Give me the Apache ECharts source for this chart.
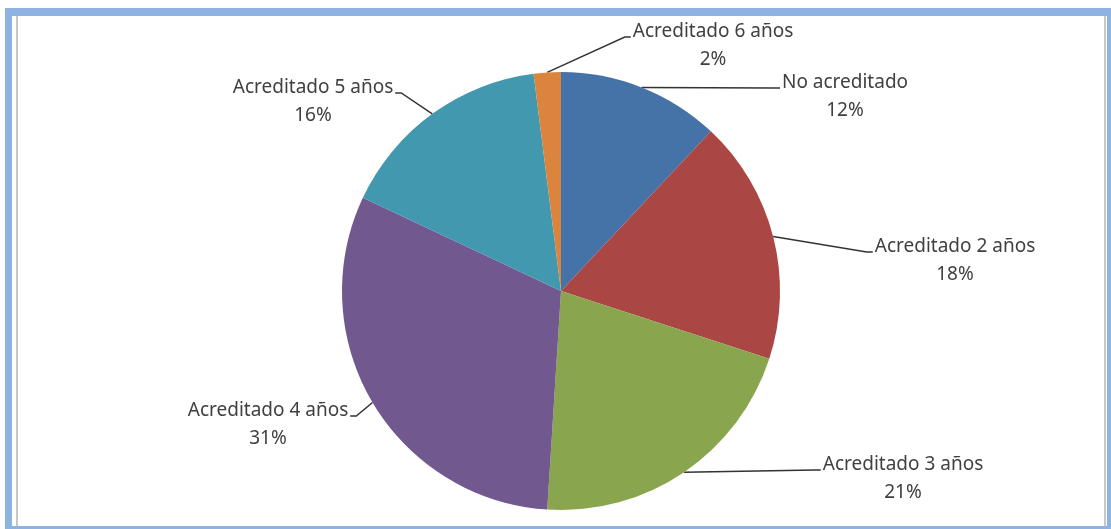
<!DOCTYPE html>
<html><head><meta charset="utf-8">
<script src="https://cdn.jsdelivr.net/npm/echarts@6/dist/echarts.min.js"></script>
<style>
html,body{margin:0;padding:0;background:#fff;}
#frame{position:absolute;left:5px;top:8px;width:1106px;height:521px;box-sizing:border-box;border-left:7px solid #8db3e2;border-top:8px solid #8db3e2;border-right:4px solid #8db3e2;border-bottom:3px solid #8db3e2;}
#inner{position:absolute;left:16px;top:16px;width:1090px;height:510px;box-sizing:border-box;border-left:2px solid #c8c8c8;border-right:2px solid #c8c8c8;}
#chart{position:absolute;left:0;top:0;width:1111px;height:529px;}
</style></head>
<body>
<div id="frame"></div><div id="inner"></div>
<div id="chart"></div>
<script>
const categories = ['No acreditado','Acreditado 2 años','Acreditado 3 años','Acreditado 4 años','Acreditado 5 años','Acreditado 6 años'];
const values = [12, 18, 21, 31, 16, 2];
const colors = ['#4572a7','#aa4643','#89a54e','#71588f','#4198af','#db843d'];
const labelPos = [[845,97],[955,261],[903,479],[268,425],[313,102],[713,46]];
const labelSide = [1,1,1,-1,-1,1]; // 1: line meets label's left edge, -1: right edge

const FONT_SIZE = 19;
const FONT_FAMILY = 'Noto Sans';
const ctx = document.createElement('canvas').getContext('2d');
ctx.font = FONT_SIZE + 'px "' + FONT_FAMILY + '"';
const textW = categories.map(c => ctx.measureText(c).width);

const chart = echarts.init(document.getElementById('chart'), null, {renderer:'canvas'});
chart.setOption({
  animation:false,
  series:[{
    type:'pie',
    center:[561,291],
    radius:219,
    startAngle:90,
    clockwise:true,
    silent:true,
    data: categories.map((c,i)=>({name:c, value:values[i], itemStyle:{color:colors[i]}})),
    label:{
      show:true,
      formatter: p => p.name + '\n' + p.value + '%',
      color:'#404040',
      fontFamily:FONT_FAMILY,
      fontSize:FONT_SIZE,
      lineHeight:28,
      align:'center'
    },
    labelLine:{show:true, length:15, length2:20, lineStyle:{color:'#333333', width:1.5}},
    labelLayout: p => {
      const i = p.dataIndex;
      const [cx, cy] = labelPos[i];
      const s = labelSide[i];
      const ex = cx - s * (textW[i] / 2 + 2);
      const ey = cy - 9;
      const start = p.labelLinePoints ? p.labelLinePoints[0] : [ex, ey];
      return {
        x: cx, y: cy, align:'center', verticalAlign:'middle',
        labelLinePoints: [start, [ex - s * 6, ey], [ex, ey]]
      };
    }
  }]
});
</script>
</body></html>
